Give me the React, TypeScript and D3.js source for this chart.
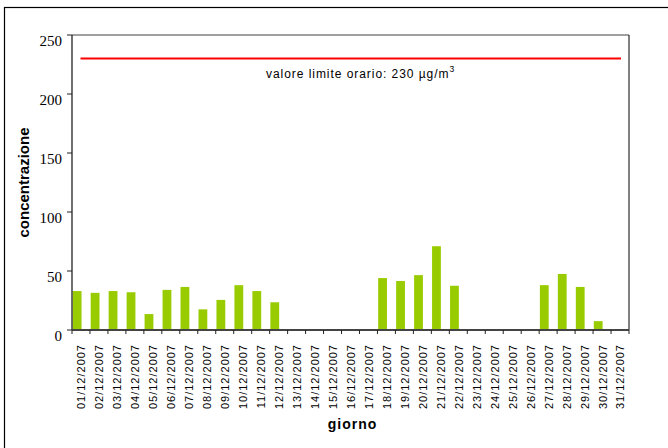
import React from "react";
import * as d3 from "d3";

const days: string[] = [
  "01/12/2007","02/12/2007","03/12/2007","04/12/2007","05/12/2007","06/12/2007","07/12/2007",
  "08/12/2007","09/12/2007","10/12/2007","11/12/2007","12/12/2007","13/12/2007","14/12/2007",
  "15/12/2007","16/12/2007","17/12/2007","18/12/2007","19/12/2007","20/12/2007","21/12/2007",
  "22/12/2007","23/12/2007","24/12/2007","25/12/2007","26/12/2007","27/12/2007","28/12/2007",
  "29/12/2007","30/12/2007","31/12/2007",
];
const values: (number | null)[] = [
  33, 31.5, 33, 32, 13.5, 34, 36.5, 17.5, 25.5, 38, 33, 23.5,
  null, null, null, null, null,
  44, 41.5, 46.5, 71, 37.5,
  null, null, null, null,
  38, 47.5, 36.5, 7.5, null,
];
const yTicks: number[] = [0, 50, 100, 150, 200, 250];
const limitValue = 230;
const limitLabel = "valore limite orario: 230 µg/m";
const yTitle = "concentrazione";
const xTitle = "giorno";

const W = 668, H = 448;
const left = 72, right = 629, top = 35, bottom = 330;

const sans = "Liberation Sans, Arial, sans-serif";
const serif = "Liberation Serif, Times New Roman, serif";

export default function App() {
  const x = d3.scaleBand<string>().domain(days).range([left, right]).paddingInner(0).paddingOuter(0);
  const y = d3.scaleLinear().domain([0, 250]).range([bottom, top]);
  const bw = x.bandwidth();

  return (
    <svg width={W} height={H} style={{ position: "absolute", left: 0, top: 0 }}>
      <rect x={0} y={0} width={W} height={H} fill="#fff" />
      <rect x={4.5} y={7.5} width={800} height={600} fill="none" stroke="#000" strokeWidth={1.2} />
      <line x1={left} x2={right} y1={top} y2={top} stroke="#808080" strokeWidth={1.5} />
      <line x1={right} x2={right} y1={top} y2={bottom} stroke="#000" strokeWidth={1} />
      {days.map((d, i) =>
        values[i] == null ? null : (
          <rect
            key={d}
            x={(x(d) as number) + bw * 0.04}
            y={y(values[i] as number)}
            width={bw * 0.49}
            height={bottom - y(values[i] as number)}
            fill="#99CC00"
          />
        )
      )}
      <line x1={left + 8.5} x2={right - 8} y1={y(limitValue)} y2={y(limitValue)} stroke="#FF0000" strokeWidth={2} />
      <text x={266} y={77.5} fontFamily={sans} fontSize={12} letterSpacing={0.95} fill="#000">
        {limitLabel}
        <tspan dy={-6} fontSize={8.5}>3</tspan>
      </text>
      <line x1={left} x2={left} y1={top} y2={bottom} stroke="#222" strokeWidth={1.3} />
      {yTicks.map((t) => (
        <g key={t}>
          <line x1={left - 5} x2={left} y1={y(t)} y2={y(t)} stroke="#222" strokeWidth={1} />
          <text x={62} y={y(t) + 11} textAnchor="end" fontFamily={serif} fontSize={15} fill="#000">
            {t}
          </text>
        </g>
      ))}
      <line x1={left} x2={right} y1={bottom} y2={bottom} stroke="#444" strokeWidth={1.8} />
      {d3.range(days.length + 1).map((i) => {
        const xx = left + i * bw;
        return <line key={i} x1={xx} x2={xx} y1={bottom} y2={bottom + 4} stroke="#222" strokeWidth={1} />;
      })}
      {days.map((d) => {
        const cx = (x(d) as number) + bw / 2;
        return (
          <text
            key={d}
            transform={`translate(${cx + 0.5},344) rotate(-90)`}
            textAnchor="end"
            dy="0.36em"
            fontFamily={sans}
            fontSize={11}
            letterSpacing={1}
            fill="#000"
          >
            {d}
          </text>
        );
      })}
      <text
        transform={`translate(29,${(top + bottom) / 2}) rotate(-90)`}
        textAnchor="middle"
        fontFamily={sans}
        fontSize={15}
        fontWeight="bold"
        fill="#000"
      >
        {yTitle}
      </text>
      <text x={352.5} y={429} textAnchor="middle" fontFamily={sans} fontSize={14} fontWeight="bold" letterSpacing={1} fill="#000">
        {xTitle}
      </text>
    </svg>
  );
}
